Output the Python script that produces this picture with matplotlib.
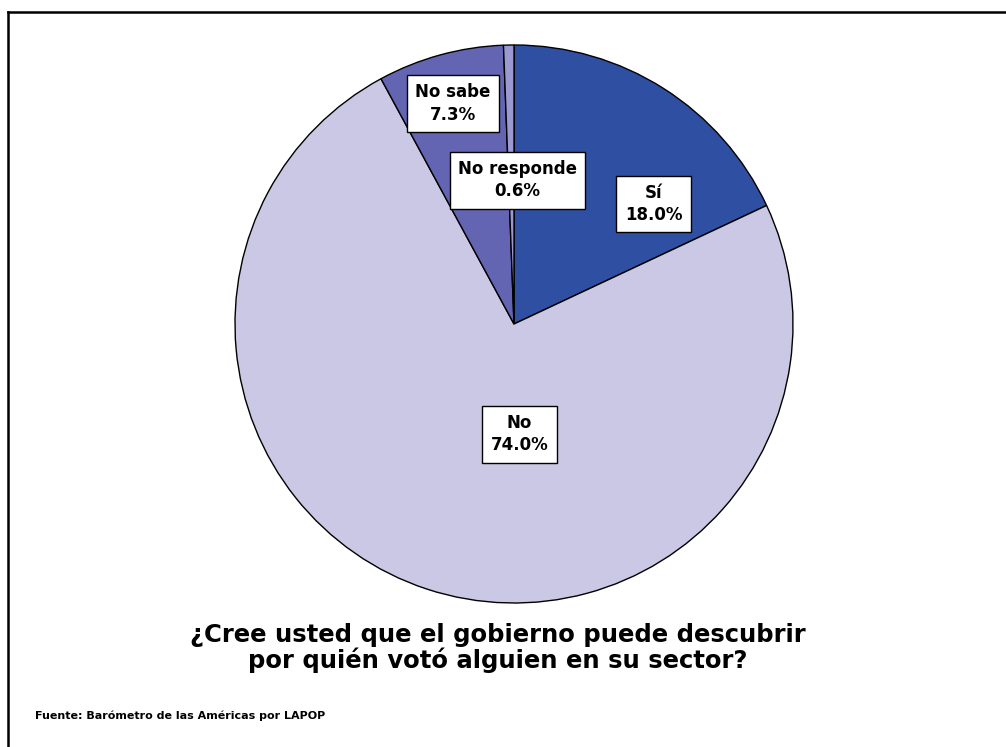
import matplotlib
matplotlib.use("Agg")
import matplotlib.pyplot as plt
from matplotlib.lines import Line2D

categories = ["Sí", "No", "No sabe", "No responde"]
values = [18.0, 74.0, 7.3, 0.6]
colors = ["#2F4FA2", "#CAC8E4", "#6365B3", "#9B99D1"]
label_pos = [(0.50, 0.43), (0.02, -0.395), (-0.22, 0.79), (0.012, 0.515)]

title = "¿Cree usted que el gobierno puede descubrir\npor quién votó alguien en su sector?"
source = "Fuente: Barómetro de las Américas por LAPOP"

W, H = 1006, 747
fig = plt.figure(figsize=(W / 100, H / 100), dpi=100)
fig.patch.set_facecolor("white")

cx, cy, r = 514, 324, 279
ax = fig.add_axes([(cx - r) / W, (H - cy - r) / H, 2 * r / W, 2 * r / H])
wedges, _ = ax.pie(values, colors=colors, startangle=90, counterclock=False,
                   wedgeprops=dict(edgecolor="black", linewidth=1.0))
ax.set_xlim(-1, 1)
ax.set_ylim(-1, 1)
ax.set_aspect("equal")
ax.axis("off")

for cat, val, (lx, ly) in zip(categories, values, label_pos):
    ax.text(lx, ly, f"{cat}\n{val:.1f}%", ha="center", va="center",
            fontsize=12, fontweight="bold", family="DejaVu Sans",
            linespacing=1.3,
            bbox=dict(boxstyle="square,pad=0.5", facecolor="white",
                      edgecolor="black", linewidth=1.0))

fig.text(498 / W, 1 - 648 / H, title, ha="center", va="center",
         fontsize=17.5, fontweight="bold", family="DejaVu Sans", linespacing=1.05)
fig.text(35 / W, 1 - 716 / H, source, ha="left", va="center",
         fontsize=8, fontweight="bold", family="DejaVu Sans")

# frame lines (top and left)
fig.add_artist(Line2D([8 / W, 1.0], [1 - 12 / H, 1 - 12 / H], color="black", linewidth=1.8))
fig.add_artist(Line2D([8 / W, 8 / W], [0.0, 1 - 12 / H], color="black", linewidth=1.8))

fig.savefig("out.png", dpi=100, facecolor="white")
